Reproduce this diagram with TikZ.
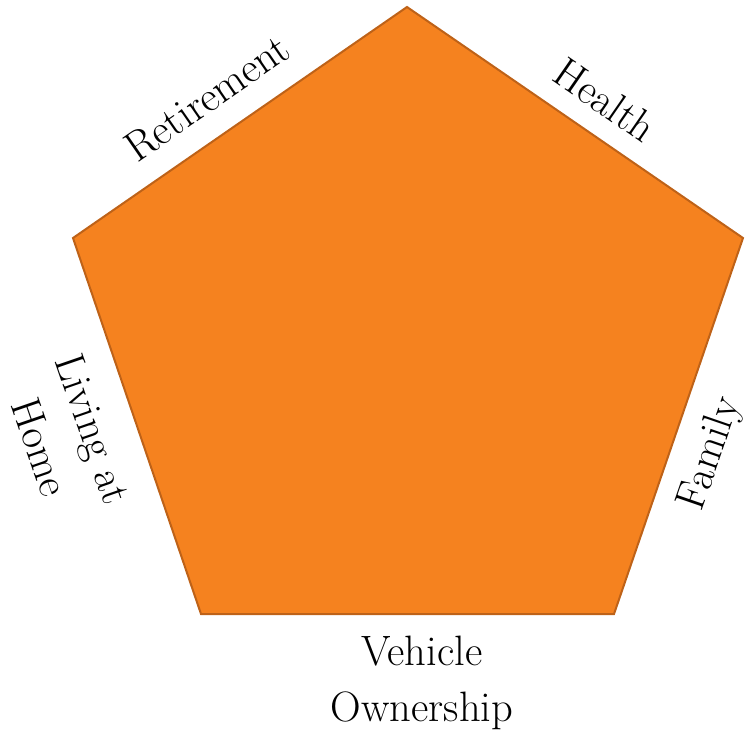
\documentclass[tikz,border=0pt]{standalone}
\definecolor{penta}{RGB}{245,130,31}
\definecolor{pentaedge}{RGB}{190,98,24}
\tikzstyle{side}=[fill=penta,draw=pentaedge,line width=2pt,line join=miter]
\tikzstyle{tag}=[font=\fontsize{42.5}{56}\selectfont,align=center,inner sep=0pt]

\begin{document}
\begin{tikzpicture}[x=1pt,y=-1pt]
	\useasboundingbox (0,0) rectangle (749,739);
	%The corners of the pentagon
	\foreach \x/\y/\name in {407/7/top, 743/238/rt, 614/614/rb,
							201/614/lb, 73/238/lt}
		\coordinate (\name) at (\x,\y);
	\draw[side] (top) -- (rt) -- (rb) -- (lb) -- (lt) -- cycle;
	%The labels along the sides
	\foreach \x/\y/\ang/\name/\txt in {207/98/34.7/retire/Retirement,
							605/100/-34.7/health/Health,
							711/454/71/family/Family,
							67/438/-71/home/{Living at\\Home},
							422/683/0/vehicle/{Vehicle\\Ownership}}
		\node[tag,rotate=\ang] (\name) at (\x,\y) {\txt};
\end{tikzpicture}
\end{document}
